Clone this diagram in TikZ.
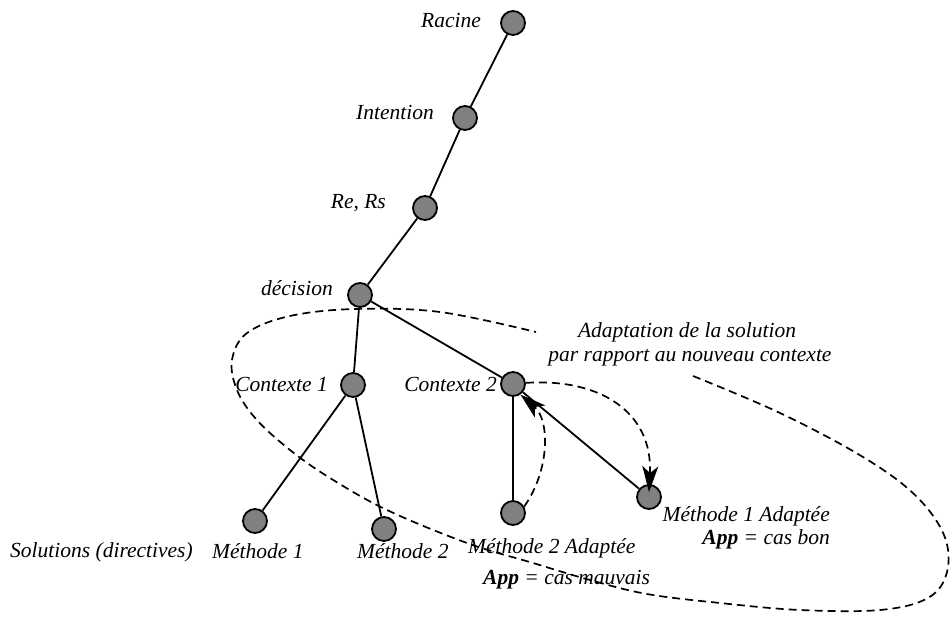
\documentclass[tikz,border=0pt]{standalone}
\usepackage{fontspec}
\setmainfont{Liberation Serif}
\usetikzlibrary{arrows.meta}
\tikzset{
  dot/.style={circle, draw=black, line width=1.8pt, fill=black!50, minimum size=24pt, inner sep=0pt},
  lbl/.style={inner sep=0pt, font=\fontsize{21.5}{24}\selectfont\itshape},
  edge/.style={line width=1.8pt},
  dsh/.style={line width=1.7pt, dash pattern=on 8pt off 5pt},
  arr/.style={dsh, -{Stealth[length=26pt, width=16pt, inset=7pt]}}
}
\begin{document}
\begin{tikzpicture}[x=1pt, y=-1pt]
\useasboundingbox (0,0) rectangle (950,620);
% nodes
\node[dot] (rac) at (513,23) {};
\node[dot] (int) at (465,118) {};
\node[dot] (rers) at (425,208) {};
\node[dot] (dec) at (360,295) {};
\node[dot] (c1) at (353,385) {};
\node[dot] (c2) at (513,384) {};
\node[dot] (m1) at (255,521) {};
\node[dot] (m2) at (384,529) {};
\node[dot] (m2a) at (513,513) {};
\node[dot] (m1a) at (649,497) {};
% labels
\node[lbl, anchor=mid east] (lrac) at (481,25) {Racine};
\node[lbl, anchor=mid east] (lint) at (434,117) {Intention};
\node[lbl, anchor=mid east] (lrers) at (386,206) {Re, Rs};
\node[lbl, anchor=mid east] (ldec) at (333,293) {décision};
\node[lbl, anchor=mid east] (lc1) at (328,389) {Contexte 1};
\node[lbl, anchor=mid east] (lc2) at (497,389) {Contexte 2};
\node[lbl, anchor=mid west] (lsol) at (10,555) {Solutions (directives)};
\node[lbl, anchor=mid west] (lm1) at (212,556) {Méthode 1};
\node[lbl, anchor=mid west] (lm2) at (357,556) {Méthode 2};
\node[lbl, anchor=mid west] (lm2a) at (468,551) {Méthode 2 Adaptée};
\node[lbl, anchor=mid west] (lapp2) at (483,582) {\textbf{App} = cas mauvais};
\node[lbl, anchor=mid east] (lm1a) at (830,519) {Méthode 1 Adaptée};
\node[lbl, anchor=mid east] (lapp1) at (830,542) {\textbf{App} = cas bon};
\node[lbl] (lad1) at (687,332) {Adaptation de la solution};
\node[lbl] (lad2) at (690,358) {par rapport au nouveau contexte};
% tree edges
\draw[edge] (rac) -- (int);
\draw[edge] (int) -- (rers);
\draw[edge] (rers) -- (dec);
\draw[edge] (dec) -- (c1);
\draw[edge] (dec) -- (c2);
\draw[edge] (c1) -- (m1);
\draw[edge] (c1) -- (m2);
\draw[edge] (c2) -- (m2a);
\draw[edge] (c2) -- (m1a);
% dashed arrows
\draw[arr] (m2a.30) .. controls (550,470) and (550,420) .. (c2.-55);
\draw[arr] (c2.5) .. controls (600,378) and (653,412) .. ([yshift=-8pt]m1a.north);
% big dashed loop
\draw[dsh] plot[smooth, tension=0.6] coordinates {
 (693,376) (780,413) (863,457) (915,495) (944,535) (947,572) (928,598)
 (880,610) (800,610) (720,603) (647,594) (590,580) (533,563) (467,543)
 (387,510) (330,478) (290,450) (256,419) (237,390) (232,360) (247,333)
 (290,316) (355,309) (440,312) (536,332)};
\end{tikzpicture}
\end{document}
